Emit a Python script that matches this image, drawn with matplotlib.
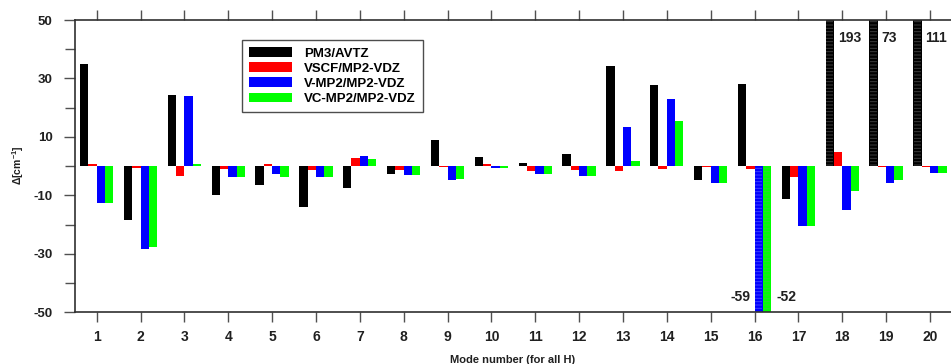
import numpy as np
import matplotlib
matplotlib.use("Agg")
import matplotlib.pyplot as plt

plt.rcParams['font.family'] = ['Liberation Sans', 'DejaVu Sans']
plt.rcParams['font.weight'] = 'bold'
plt.rcParams['mathtext.default'] = 'regular'
plt.rcParams['axes.unicode_minus'] = False
plt.rcParams['hatch.linewidth'] = 0.7

modes = np.arange(1, 21)
labels = ['PM3/AVTZ', 'VSCF/MP2-VDZ', 'V-MP2/MP2-VDZ', 'VC-MP2/MP2-VDZ']
colors = ['#000000', '#ff0000', '#0000ff', '#00ff00']
stripe = ['#3c3c3c', '#ff4040', '#4040ff', '#30d030']

pm3 = [35.1, -18.3, 24.2, -9.7, -6.5, -13.9, -7.3, -2.8, 8.8, 3.1,
       1.1, 4.0, 34.1, 27.9, -4.6, 28.0, -11.3, 193, 73, 111]
vscf = [0.6, -0.7, -3.3, -1.0, 0.6, -1.2, 2.7, -1.2, -0.3, 0.8,
        -1.8, -1.2, -1.6, -0.8, -0.2, -1.1, -3.6, 5.0, -0.2, -0.2]
vmp2 = [-12.7, -28.5, 24.0, -3.6, -2.6, -3.8, 3.4, -2.9, -4.6, -0.7,
        -2.7, -3.4, 13.5, 23.1, -5.7, -59, -20.4, -14.9, -5.9, -2.3]
vcmp2 = [-12.7, -27.8, 0.7, -3.6, -3.6, -3.8, 2.4, -2.9, -4.4, -0.6,
         -2.7, -3.5, 1.8, 15.6, -5.7, -52, -20.4, -8.6, -4.9, -2.3]
series = [pm3, vscf, vmp2, vcmp2]

ymin, ymax = -50, 50
w = 0.19
offsets = [-1.5 * w, -0.5 * w, 0.5 * w, 1.5 * w]

fig = plt.figure(figsize=(9.51, 3.64), dpi=100)
ax = fig.add_axes([0.0786, 0.142, 0.9214, 0.803])

for vals, off, c, sc, lab in zip(series, offsets, colors, stripe, labels):
    vals = np.array(vals, dtype=float)
    ax.bar(modes + off, vals, width=w, color=c, linewidth=0, label=lab)
    # bars running off the scale get a striped fill
    big = (vals > ymax) | (vals < ymin)
    if big.any():
        ax.bar(modes[big] + off, vals[big], width=w * 0.8, color=c,
               edgecolor=sc, linewidth=0, hatch='-----')

# values of the clipped bars
for m, v in zip(modes, pm3):
    if v > ymax:
        ax.text(m - 0.1, 44, f'{v:g}', ha='left', va='center',
                fontsize=10, fontweight='bold', color='#202020')
ax.text(16 - 0.1, -44.6, f'{vmp2[15]:g}', ha='right', va='center',
        fontsize=10, fontweight='bold', color='#202020')
ax.text(16 + 0.49, -44.6, f'{vcmp2[15]:g}', ha='left', va='center',
        fontsize=10, fontweight='bold', color='#202020')

ax.set_xlim(0.5, 20.48)
ax.set_ylim(ymin, ymax)
ax.set_xticks(modes)
ax.set_yticks([50, 30, 10, -10, -30, -50])
ax.set_yticks([40, 20, 0, -20, -40], minor=True)

for s in ['left', 'top', 'bottom']:
    ax.spines[s].set_color('#303030')
    ax.spines[s].set_linewidth(1.2)
ax.spines['right'].set_visible(False)

ax.tick_params(axis='x', which='both', direction='out', top=True, length=7,
               width=1.0, color='#505050', labelsize=10, pad=6)
ax.tick_params(axis='y', which='major', direction='out', length=8,
               width=1.0, color='#505050', labelsize=9.5, pad=8)
ax.tick_params(axis='y', which='minor', direction='out', length=7,
               width=1.0, color='#505050')
for t in ax.get_xticklabels() + ax.get_yticklabels():
    t.set_fontweight('bold')
    t.set_color('#202020')

fig.text(0.539, 0.011, 'Mode number (for all H)', ha='center', va='center',
         fontsize=8, fontweight='bold', color='#202020')
fig.text(0.019, 0.545, r'$\Delta$[cm$^{-1}$]', rotation=90, ha='center',
         va='center', fontsize=7.5, fontweight='bold', color='#202020')

handles, labs = ax.get_legend_handles_labels()
leg = ax.legend(handles[:4], labs[:4], loc='upper left',
                bbox_to_anchor=(0.254, 0.89), bbox_transform=fig.transFigure,
                fancybox=False, frameon=True, edgecolor='#202020',
                handlelength=3.3, handleheight=0.75, handletextpad=0.9,
                labelspacing=0.2, borderpad=0.55, borderaxespad=0,
                prop={'weight': 'bold', 'size': 9.5})
leg.get_frame().set_linewidth(1.0)

fig.savefig('out.png', dpi=100)
